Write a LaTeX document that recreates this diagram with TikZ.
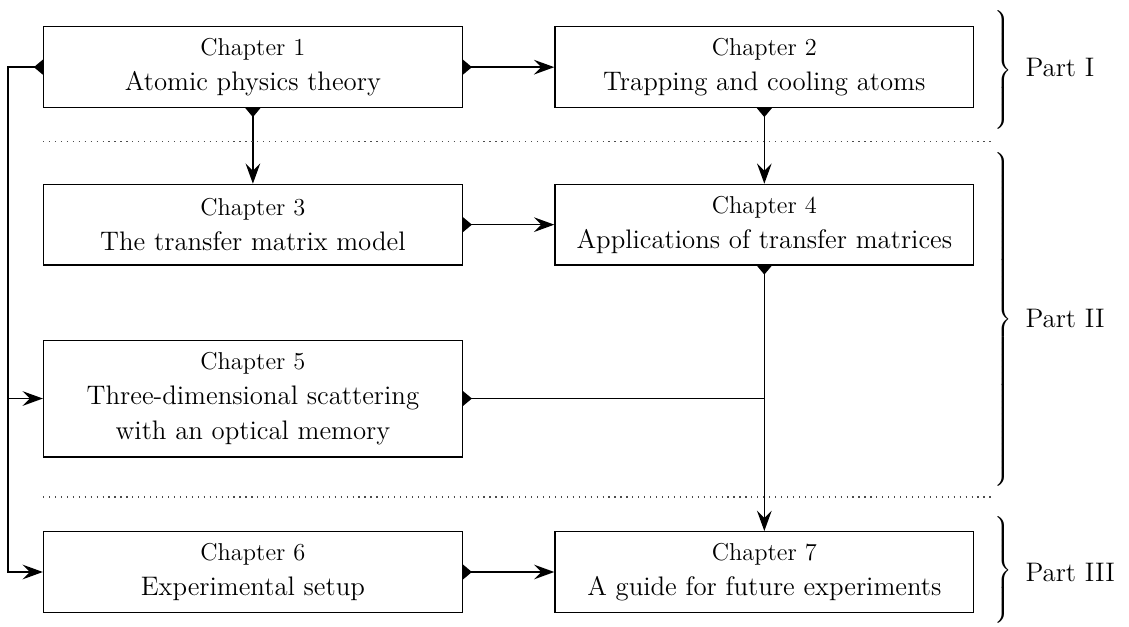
\documentclass[tikz,border=0pt]{standalone}
\usepackage{tikz}
\usetikzlibrary{arrows.meta,backgrounds}
\def\chapfont{\fontsize{12.3}{17.5}\selectfont}
\def\titlefont{\fontsize{13.5}{17.5}\selectfont}

\tikzset{
	chapbox/.style={draw, line width=0.6pt, fill=white, align=center, inner sep=0pt,
		minimum width=7.42cm, minimum height=1.43cm, font=\titlefont},
	link/.style={line width=0.8pt, {Triangle[reversed, length=1.6mm, width=2.6mm]}-{Stealth[length=3.6mm, width=2.6mm, inset=1.3mm]}},
	plainlink/.style={line width=0.8pt, {Triangle[reversed, length=1.6mm, width=2.6mm]}-},
	sep/.style={line width=0.6pt, black!70, dash pattern=on 0.6pt off 2.4pt},
	partlabel/.style={anchor=west, inner sep=0pt, font=\titlefont}
}

\begin{document}
\begin{tikzpicture}
			%%%%% START %%%%%
			\useasboundingbox (0, 0) rectangle (20, 11.09);
			
			\node[chapbox] (ch1) at (4.48, 9.90) {{\chapfont Chapter 1}\\Atomic physics theory};
			\node[chapbox] (ch2) at (13.54, 9.90) {{\chapfont Chapter 2}\\Trapping and cooling atoms};
			
			\node[chapbox] (ch3) at (4.48, 7.11) {{\chapfont Chapter 3}\\The transfer matrix model};
			\node[chapbox] (ch4) at (13.54, 7.11) {{\chapfont Chapter 4}\\Applications of transfer matrices};
			
			\node[chapbox, minimum height=2.07cm] (ch5) at (4.48, 4.03) {{\chapfont Chapter 5}\\Three-dimensional scattering\\with an optical memory};
			
			\node[chapbox] (ch6) at (4.48, 0.957) {{\chapfont Chapter 6}\\Experimental setup};
			\node[chapbox] (ch7) at (13.54, 0.957) {{\chapfont Chapter 7}\\A guide for future experiments};
			
			\coordinate (rail) at (0.142, 9.90);
			\coordinate (merge) at (ch4.south |- ch5.east);
			
			\begin{scope}[on background layer]
				\draw[link] (ch1.west) -- (rail) |- (ch6.west);
				\draw[-{Stealth[length=3.6mm, width=2.6mm, inset=1.3mm]}, line width=0.8pt] (rail |- ch5.west) -- (ch5.west);
				\draw[link] (ch1.east) -- (ch2.west);
				\draw[link] (ch1.south) -- (ch3.north);
				\draw[link] (ch2.south) -- (ch4.north);
				\draw[link] (ch3.east) -- (ch4.west);
				\draw[link] (ch4.south) -- (ch7.north);
				\draw[plainlink] (ch5.east) -- (merge);
				\draw[link] (ch6.east) -- (ch7.west);
				
				\draw[sep] (0.762, 8.59) -- (17.59, 8.59);
				\draw[sep] (0.762, 2.285) -- (17.59, 2.285);
			\end{scope}
			
			% parts
			\node[inner sep=0pt] (brI) at (17.75, 9.85) {$\left.\rule[-0.97cm]{0pt}{1.94cm}\right\}$};
			\node[inner sep=0pt] (brII) at (17.75, 5.43) {$\left.\rule[-2.85cm]{0pt}{5.7cm}\right\}$};
			\node[inner sep=0pt] (brIII) at (17.75, 0.98) {$\left.\rule[-0.89cm]{0pt}{1.78cm}\right\}$};
			
			\node[partlabel] (partI) at (18.16, 9.90) {Part I};
			\node[partlabel] (partII) at (18.16, 5.45) {Part II};
			\node[partlabel] (partIII) at (18.16, 0.957) {Part III};
			
			%%%%% END %%%%%
\end{tikzpicture}
\end{document}
